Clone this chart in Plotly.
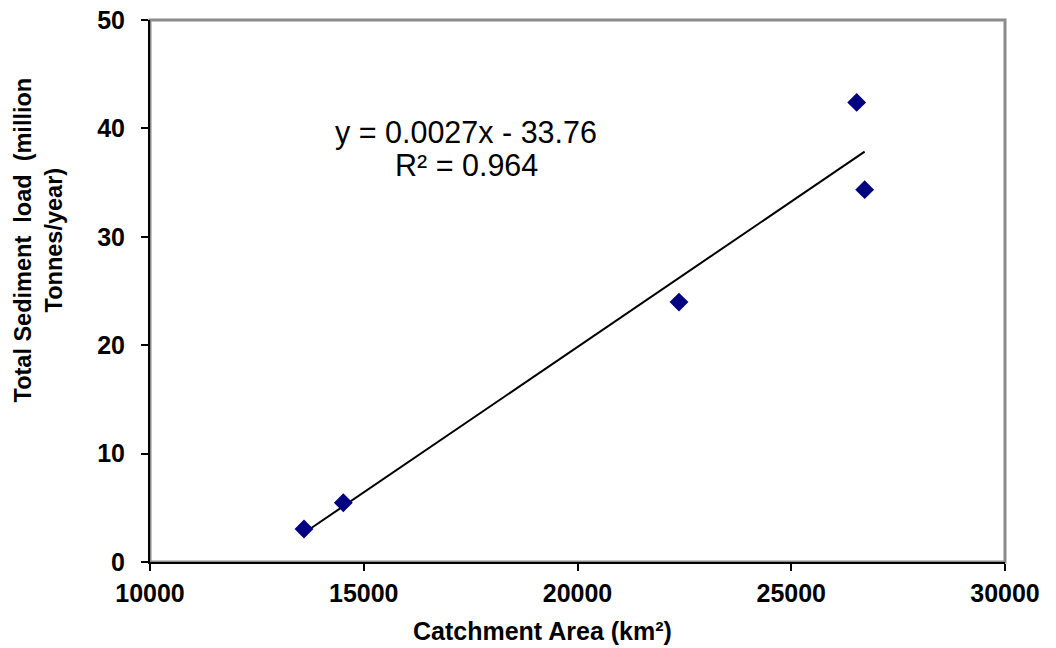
import numpy as np
import plotly.graph_objects as go

# Data
catchment_area = [13602, 14522, 22374, 26530, 26717]   # km²
sediment_load = [3.04, 5.47, 23.98, 42.4, 34.35]         # million tonnes/year

x_ticks = [10000, 15000, 20000, 25000, 30000]
y_ticks = [0, 10, 20, 30, 40, 50]

equation_text = "y = 0.0027x - 33.76"
r2_text = "R² = 0.964"

# Linear trendline (least squares) from the data
slope, intercept = np.polyfit(catchment_area, sediment_load, 1)
trend_x = [min(catchment_area), max(catchment_area)]
trend_y = [slope * v + intercept for v in trend_x]

FONT = "Liberation Sans, Arial, sans-serif"
PLOT_H = 542.0

fig = go.Figure()
fig.add_trace(go.Scatter(
    x=trend_x, y=trend_y, mode="lines",
    line=dict(color="black", width=2), showlegend=False, hoverinfo="skip"))
fig.add_trace(go.Scatter(
    x=catchment_area, y=sediment_load, mode="markers",
    marker=dict(symbol="diamond", size=14.5, color="#000080",
                line=dict(width=0)),
    showlegend=False))

# gray frame (top/right)
fig.add_shape(type="rect", xref="paper", yref="paper", x0=0, y0=0, x1=1, y1=1,
              line=dict(color="#8c8c8c", width=3), layer="below")

fig.update_layout(
    width=1056, height=648,
    margin=dict(l=142, r=59, t=12, b=94),
    paper_bgcolor="white", plot_bgcolor="white",
    font=dict(family=FONT, color="black"),
    xaxis=dict(range=[10000, 30000], tickvals=x_ticks,
               ticktext=[str(v) for v in x_ticks],
               showgrid=False, zeroline=False, automargin=False,
               showline=True, linecolor="black", linewidth=2,
               ticks="outside", ticklen=7, tickwidth=1.5, tickcolor="black",
               tickfont=dict(size=25, family=FONT, weight="bold"),
               ticklabelstandoff=1, ticklabeloverflow="allow"),
    yaxis=dict(range=[0, 50], tickvals=y_ticks,
               showgrid=False, zeroline=False, automargin=False,
               showline=True, linecolor="black", linewidth=2,
               ticks="outside", ticklen=7, tickwidth=1.5, tickcolor="black",
               tickfont=dict(size=25, family=FONT, weight="bold"),
               ticklabelstandoff=11, ticklabeloverflow="allow"),
    annotations=[
        dict(text=equation_text, x=0.3696, y=0.793, xref="paper", yref="paper",
             showarrow=False, xanchor="center", yanchor="middle",
             font=dict(size=30.5, family=FONT)),
        dict(text=r2_text, x=0.3696, y=0.732, xref="paper", yref="paper",
             showarrow=False, xanchor="center", yanchor="middle",
             font=dict(size=30.5, family=FONT)),
        dict(text="Catchment Area (km²)", x=0.459, y=(562 - 631) / PLOT_H,
             xref="paper", yref="paper",
             showarrow=False, xanchor="center", yanchor="middle",
             font=dict(size=25, family=FONT, weight="bold")),
        dict(text="Total Sediment  load  (million<br>Tonnes/year)",
             x=-0.1305, y=0.594, xref="paper", yref="paper",
             showarrow=False, xanchor="center", yanchor="middle", textangle=-90,
             font=dict(size=23.5, family=FONT, weight="bold")),
    ],
)

fig.write_html("out.html")
